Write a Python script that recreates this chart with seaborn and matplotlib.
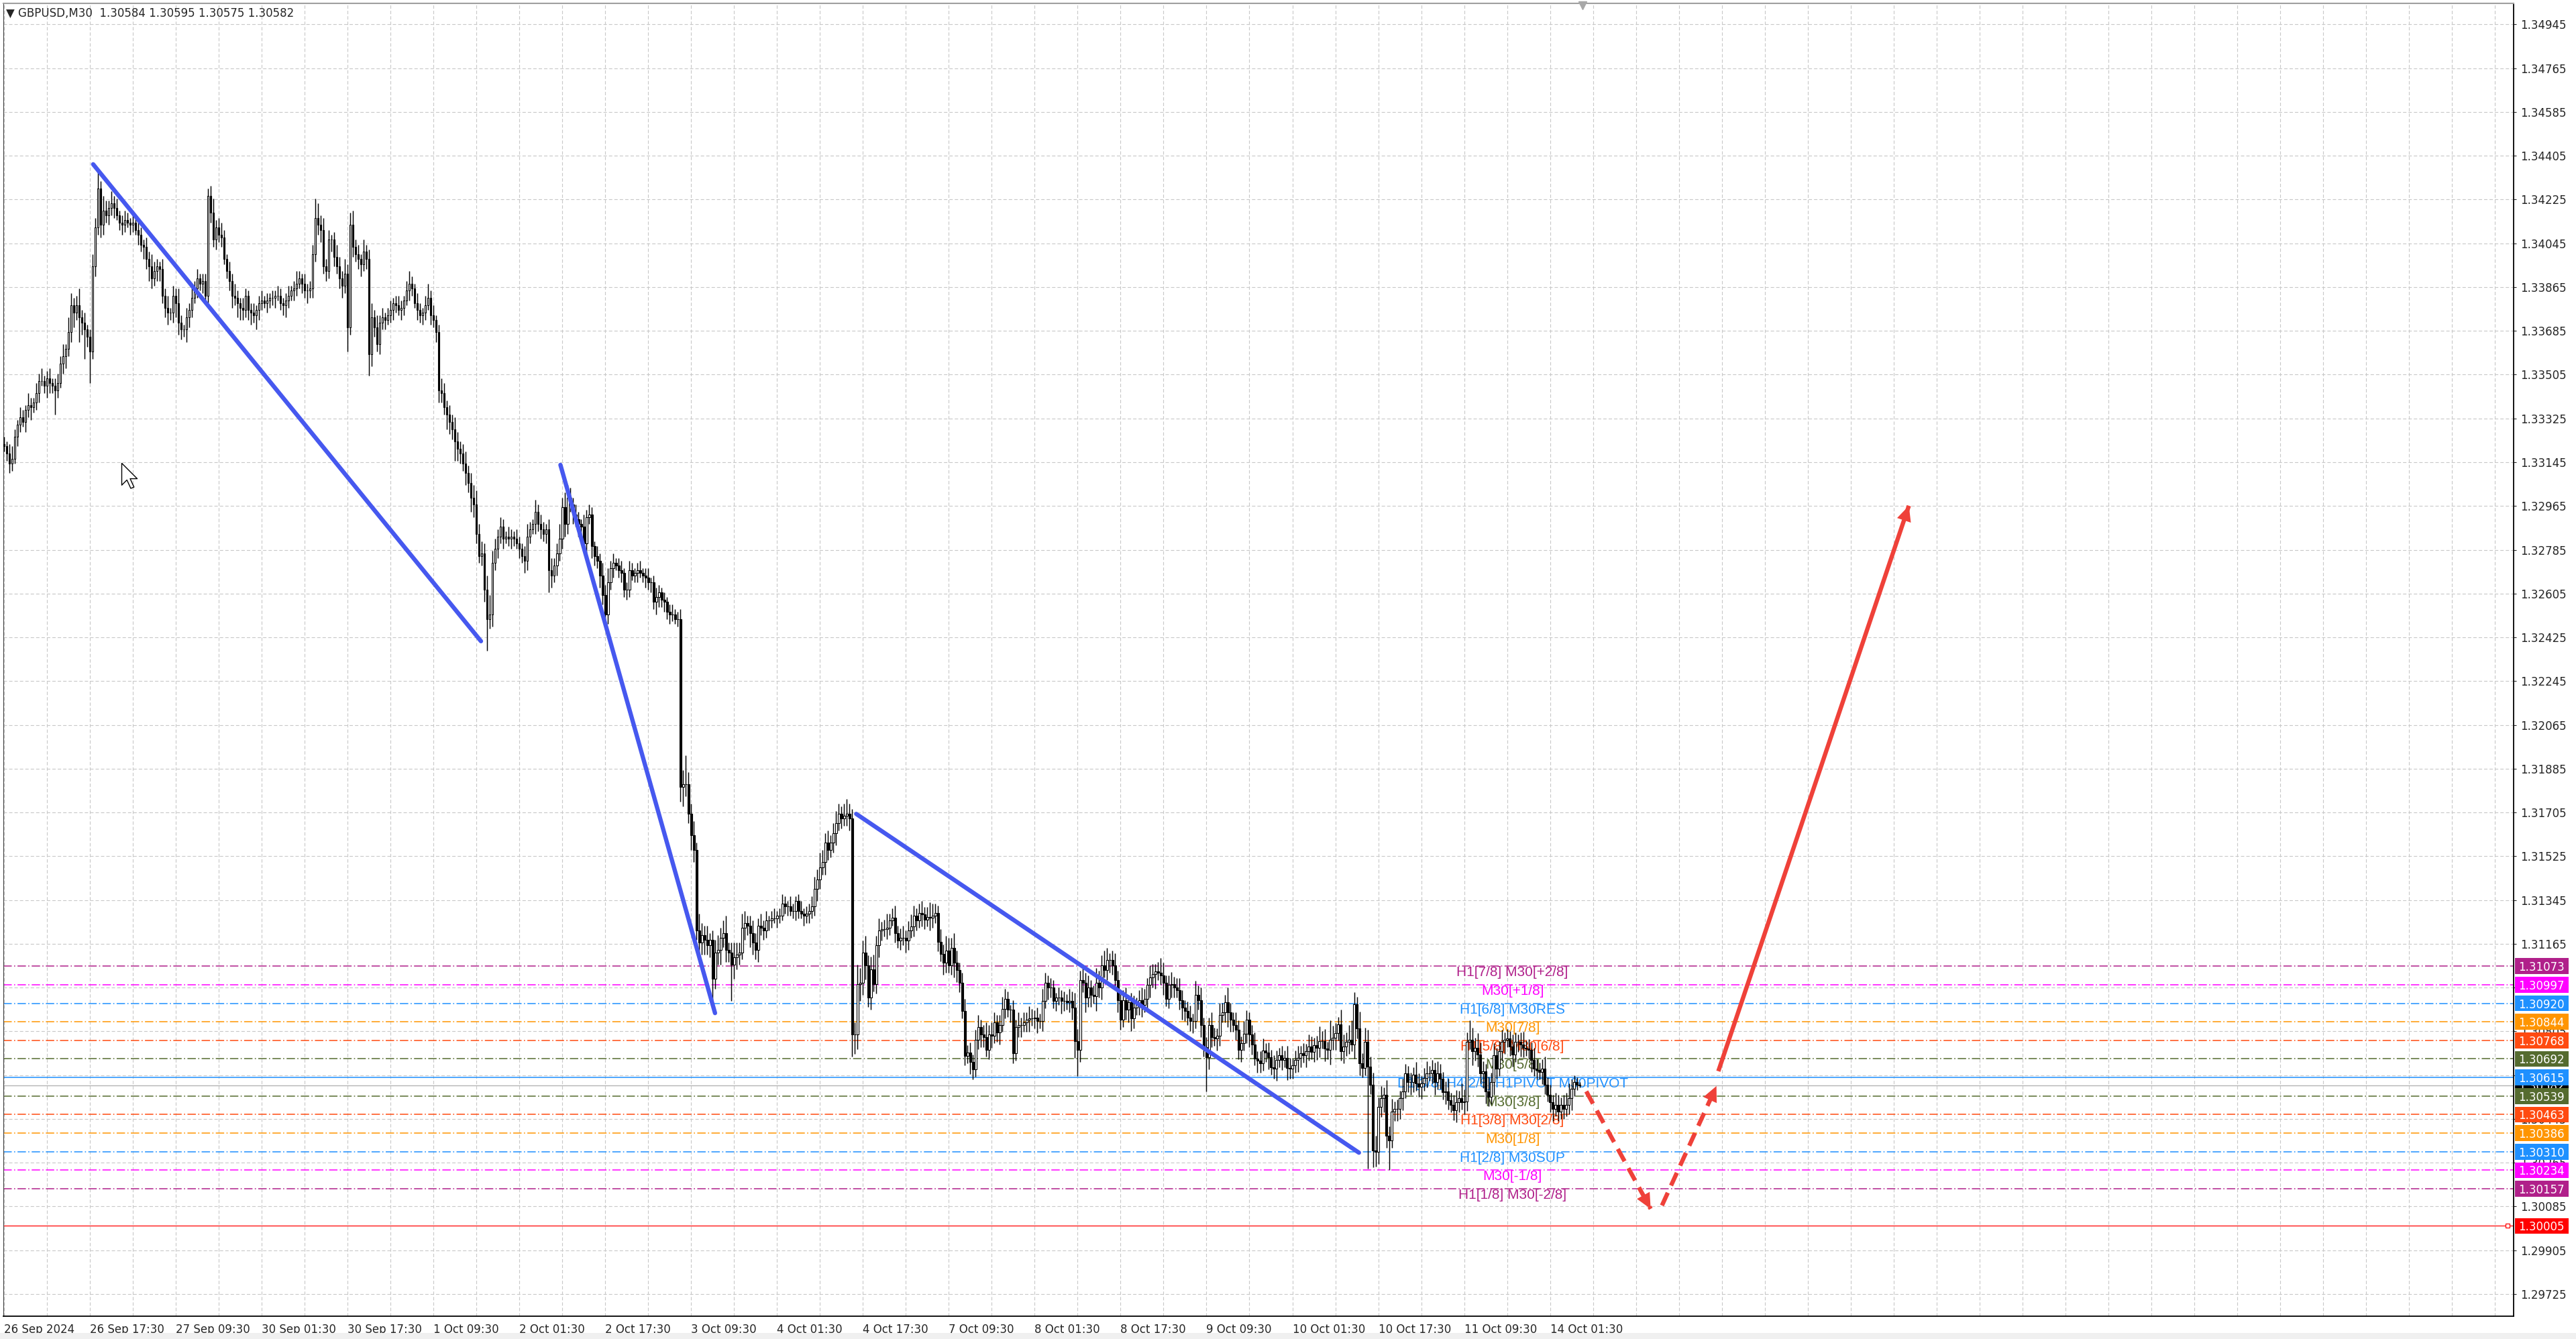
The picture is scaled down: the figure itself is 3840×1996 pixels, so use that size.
import numpy as np
import pandas as pd
import seaborn as sns
import matplotlib.pyplot as plt
from matplotlib.patches import Rectangle
from matplotlib.transforms import blended_transform_factory

# ---------------- data ----------------
# M30 candles, prices in pips above 1.30000 (open = previous close)
first_open = 322
close_pips = [
    321, 318, 314, 316, 325, 330, 333, 331, 336, 338,
    337, 339, 343, 348, 348, 346, 349, 347, 346, 344,
    347, 355, 358, 361, 368, 379, 376, 379, 374, 372,
    369, 366, 360, 395, 411, 427, 412, 418, 416, 419,
    421, 419, 416, 413, 412, 414, 413, 412, 413, 410,
    408, 404, 403, 398, 395, 390, 393, 395, 394, 383,
    378, 376, 376, 383, 380, 372, 369, 369, 374, 377,
    382, 386, 390, 388, 389, 383, 424, 417, 406, 411,
    408, 407, 398, 393, 389, 383, 382, 380, 378, 377,
    383, 377, 376, 375, 377, 380, 381, 380, 381, 382,
    382, 383, 383, 380, 379, 381, 383, 385, 386, 388,
    390, 388, 385, 385, 386, 400, 415, 412, 410, 395,
    393, 406, 406, 399, 395, 390, 387, 392, 370, 412,
    403, 400, 398, 396, 401, 398, 359, 374, 370, 363,
    372, 374, 373, 375, 377, 380, 379, 377, 378, 381,
    385, 388, 386, 380, 377, 375, 376, 379, 382, 375,
    373, 368, 344, 343, 337, 334, 331, 328, 323, 320,
    318, 314, 310, 306, 300, 297, 285, 276, 277, 262,
    250, 252, 273, 279, 284, 288, 283, 284, 283, 284,
    283, 281, 279, 276, 274, 284, 287, 289, 294, 289,
    287, 285, 287, 270, 268, 272, 277, 283, 296, 289,
    300, 297, 293, 291, 289, 288, 281, 292, 293, 280,
    276, 274, 268, 260, 252, 265, 271, 273, 272, 270,
    269, 262, 262, 270, 268, 269, 270, 269, 268, 267,
    265, 265, 257, 259, 261, 258, 257, 253, 252, 252,
    250, 250, 181, 182, 182, 170, 161, 155, 122, 117,
    120, 118, 116, 118, 102, 113, 114, 119, 121, 114,
    113, 108, 111, 112, 113, 123, 125, 124, 121, 117,
    114, 124, 123, 122, 126, 126, 127, 127, 128, 128,
    133, 132, 132, 130, 130, 134, 130, 129, 128, 129,
    130, 132, 139, 143, 148, 150, 158, 155, 158, 162,
    166, 170, 168, 169, 170, 168, 79.1, 79.1, 100.0, 100.5,
    112.8, 107.7, 94.4, 106.1, 100.0, 115.8, 121.9, 122.5, 122.5, 123.0,
    126.0, 127.1, 120.9, 117.9, 118.9, 118.9, 117.9, 121.9, 123.5, 128.1,
    126.0, 129.1, 128.6, 126.5, 127.6, 127.1, 128.1, 129.1, 117.4, 112.3,
    108.7, 113.8, 107.7, 114.8, 108.7, 105.6, 100.5, 88.8, 70.4, 71.9,
    67.9, 64.8, 77.1, 82.2, 79.1, 78.1, 73.0, 79.1, 78.6, 84.2,
    80.1, 83.2, 89.8, 93.9, 89.3, 89.3, 71.4, 82.2, 83.2, 83.2,
    84.2, 85.2, 85.7, 85.7, 86.2, 84.7, 84.7, 92.9, 100.5, 98.5,
    98.5, 92.9, 94.4, 94.4, 92.9, 92.9, 92.4, 92.9, 90.3, 76.5,
    73.0, 101.5, 100.5, 94.4, 98.5, 95.4, 94.9, 100.5, 98.5, 107.7,
    105.6, 109.7, 109.7, 107.7, 101.5, 93.4, 85.2, 93.4, 89.3, 92.4,
    85.7, 90.3, 91.3, 93.4, 91.3, 93.9, 99.5, 102.6, 104.1, 105.1,
    104.6, 103.6, 100.5, 93.9, 99.5, 100.0, 98.5, 97.5, 93.4, 90.3,
    88.8, 86.2, 84.7, 84.7, 95.4, 93.4, 83.2, 74.0, 69.9, 83.2,
    78.1, 77.6, 78.6, 87.3, 88.3, 92.4, 88.3, 85.2, 83.2, 81.1,
    73.0, 75.5, 79.6, 85.2, 79.1, 75.0, 69.4, 68.4, 67.4, 72.5,
    71.9, 69.9, 65.8, 65.1, 68.7, 70.6, 68.7, 69.6, 65.5, 65.1,
    66.4, 68.7, 69.6, 71.5, 70.6, 72.4, 74.3, 72.0, 74.7, 73.8,
    76.5, 76.5, 73.3, 72.9, 77.0, 77.9, 79.8, 83.4, 72.4, 74.3,
    76.1, 77.0, 75.2, 91.7, 81.6, 67.4, 65.5, 76.1, 66.0, 58.6,
    31.5, 31.0, 49.4, 53.1, 54.5, 37.5, 35.6, 47.6, 48.5, 48.5,
    53.1, 55.9, 63.2, 59.5, 59.5, 62.8, 59.1, 57.7, 59.1, 61.4,
    63.2, 63.2, 64.6, 59.5, 63.2, 60.9, 55.4, 55.9, 52.2, 50.3,
    48.0, 51.3, 53.1, 51.3, 51.7, 76.1, 77.0, 72.4, 73.8, 71.0,
    63.2, 64.1, 55.9, 53.6, 59.5, 70.6, 65.1, 72.4, 76.1, 77.0,
    77.5, 74.3, 71.0, 76.1, 76.1, 75.2, 73.8, 73.3, 72.9, 68.7,
    65.1, 64.6, 63.7, 65.1, 58.6, 54.5, 51.3, 48.5, 50.3, 47.6,
    50.3, 48.5, 50.3, 53.1, 56.8, 59.5, 58.4, 58.2,
]
# wick lengths in pips above / below the candle body
upper_wick = [
    3, 2, 4, 5, 3, 2, 4, 3, 2, 5, 3, 2, 4, 3, 5, 2, 3, 4, 2, 3,
    4, 3, 5, 2, 6, 5, 3, 4, 7, 3, 4, 2, 3, 5, 4, 7, 3, 6, 4, 3,
    5, 3, 4, 2, 3, 4, 3, 2, 5, 3, 4, 3, 2, 4, 3, 5, 4, 3, 2, 4,
    3, 5, 2, 4, 3, 6, 3, 2, 4, 3, 5, 3, 4, 2, 3, 3, 3, 4, 6, 3,
    4, 5, 3, 2, 4, 3, 5, 3, 2, 4, 3, 2, 3, 4, 2, 3, 4, 2, 3, 2,
    3, 2, 4, 3, 2, 3, 4, 2, 3, 5, 3, 2, 4, 3, 3, 4, 8, 6, 4, 5,
    3, 4, 2, 3, 5, 4, 3, 6, 4, 5, 6, 3, 4, 2, 5, 3, 4, 6, 3, 5,
    3, 4, 2, 3, 4, 2, 3, 4, 3, 2, 4, 5, 3, 2, 4, 3, 2, 4, 6, 3,
    4, 2, 3, 5, 4, 3, 4, 3, 5, 4, 3, 4, 5, 3, 4, 5, 6, 4, 5, 4,
    6, 8, 5, 4, 3, 4, 3, 2, 4, 3, 2, 4, 3, 2, 4, 5, 3, 2, 5, 3,
    4, 3, 2, 4, 5, 3, 4, 6, 4, 6, 5, 4, 3, 4, 3, 2, 5, 3, 4, 3,
    2, 4, 3, 5, 4, 6, 3, 4, 2, 3, 4, 2, 3, 4, 3, 2, 3, 4, 2, 3,
    4, 2, 3, 4, 3, 2, 3, 2, 3, 4, 2, 3, 4, 6, 12, 5, 4, 6, 3, 7,
    5, 4, 6, 3, 4, 5, 6, 4, 5, 7, 3, 4, 6, 5, 4, 6, 5, 3, 4, 5,
    4, 3, 5, 3, 4, 2, 3, 4, 2, 3, 4, 3, 2, 4, 3, 2, 3, 4, 2, 3,
    3, 4, 5, 4, 6, 5, 4, 5, 3, 4, 5, 4, 3, 5, 6, 4, 4, 5, 8, 6,
    5, 7, 4, 5, 6, 4, 5, 3, 4, 6, 3, 4, 5, 3, 4, 5, 3, 4, 5, 4,
    3, 4, 5, 3, 4, 6, 5, 4, 3, 5, 4, 6, 5, 4, 6, 5, 3, 4, 5, 3,
    4, 3, 4, 5, 3, 4, 6, 4, 5, 4, 3, 4, 5, 4, 3, 2, 4, 3, 5, 3,
    4, 3, 5, 4, 3, 4, 3, 5, 4, 3, 4, 3, 2, 4, 3, 4, 3, 5, 4, 6,
    5, 4, 6, 4, 5, 3, 4, 6, 5, 4, 6, 5, 3, 4, 5, 4, 3, 4, 5, 3,
    4, 5, 3, 4, 5, 4, 3, 5, 4, 3, 4, 6, 5, 3, 4, 5, 3, 4, 5, 4,
    3, 4, 5, 3, 6, 4, 5, 3, 4, 3, 5, 4, 3, 5, 4, 3, 6, 4, 3, 5,
    4, 3, 5, 4, 3, 4, 5, 3, 4, 5, 3, 4, 3, 5, 4, 3, 4, 3, 5, 4,
    3, 4, 5, 3, 4, 3, 5, 4, 3, 4, 6, 4, 5, 3, 8, 5, 4, 3, 6, 5,
    4, 6, 8, 5, 3, 7, 4, 6, 5, 4, 5, 6, 4, 5, 3, 6, 4, 5, 3, 4,
    3, 5, 4, 3, 4, 3, 5, 4, 3, 4, 5, 3, 4, 3, 5, 4, 3, 4, 5, 3,
    4, 5, 3, 6, 5, 4, 8, 5, 4, 6, 5, 4, 3, 6, 4, 5, 3, 4, 5, 3,
    4, 3, 5, 4, 3, 4, 5, 3, 4, 3, 5, 4, 3, 4, 5, 3, 4, 3, 5, 4,
    3, 4, 5, 6, 4, 3, 2, 1.1,
]
lower_wick = [
    2, 3, 4, 3, 2, 4, 3, 2, 4, 3, 5, 2, 3, 4, 2, 3, 5, 4, 3, 10,
    3, 2, 4, 5, 3, 4, 6, 3, 10, 5, 12, 4, 13, 3, 4, 3, 5, 4, 3, 4,
    3, 4, 2, 3, 4, 3, 2, 4, 3, 2, 4, 3, 5, 4, 6, 4, 3, 4, 5, 3,
    4, 5, 3, 4, 6, 5, 4, 3, 5, 4, 3, 2, 4, 3, 4, 3, 3, 4, 3, 4,
    3, 4, 2, 3, 4, 5, 3, 6, 5, 4, 3, 4, 5, 3, 6, 4, 3, 2, 4, 3,
    3, 4, 2, 3, 4, 5, 3, 2, 4, 3, 2, 4, 3, 5, 3, 4, 3, 4, 5, 3,
    4, 3, 5, 4, 3, 4, 5, 3, 10, 3, 4, 3, 4, 5, 3, 4, 9, 5, 4, 3,
    4, 3, 4, 2, 3, 4, 3, 2, 4, 3, 2, 4, 3, 2, 4, 3, 4, 3, 2, 4,
    3, 4, 5, 4, 3, 6, 5, 4, 8, 5, 4, 3, 5, 4, 6, 5, 4, 3, 4, 5,
    13, 4, 5, 3, 4, 3, 4, 2, 3, 4, 3, 2, 4, 3, 5, 4, 3, 2, 4, 3,
    4, 3, 4, 9, 5, 3, 4, 3, 4, 5, 4, 3, 4, 3, 5, 4, 3, 4, 3, 5,
    4, 3, 5, 4, 3, 4, 3, 4, 2, 3, 4, 3, 4, 3, 2, 3, 4, 2, 3, 4,
    3, 4, 3, 5, 4, 3, 4, 3, 4, 3, 2, 3, 6, 8, 5, 4, 6, 5, 4, 6,
    5, 6, 4, 5, 9, 4, 5, 6, 4, 5, 4, 15, 6, 5, 4, 3, 5, 4, 6, 5,
    4, 5, 3, 4, 3, 4, 3, 2, 4, 3, 2, 3, 4, 2, 3, 4, 3, 2, 4, 3,
    4, 3, 4, 5, 4, 3, 5, 4, 3, 4, 5, 3, 4, 3, 4, 5, 9, 8, 6, 7,
    5, 6, 4, 5, 3, 4, 5, 4, 3, 4, 3, 2, 4, 3, 4, 3, 5, 4, 3, 4,
    4, 3, 5, 4, 3, 5, 4, 3, 4, 3, 5, 4, 3, 4, 6, 5, 4, 3, 4, 3,
    5, 4, 3, 4, 5, 4, 3, 4, 5, 3, 4, 5, 3, 4, 3, 5, 4, 3, 4, 5,
    3, 4, 5, 3, 4, 5, 3, 4, 3, 5, 4, 3, 4, 3, 5, 4, 3, 4, 5, 7,
    11, 5, 4, 6, 4, 5, 3, 6, 4, 5, 3, 4, 5, 4, 3, 5, 4, 3, 4, 5,
    5, 4, 3, 4, 5, 3, 4, 5, 4, 6, 3, 4, 5, 3, 4, 5, 4, 3, 4, 5,
    4, 3, 4, 5, 3, 4, 5, 4, 14, 5, 4, 3, 5, 4, 3, 4, 6, 5, 3, 4,
    4, 5, 3, 4, 5, 4, 3, 5, 4, 3, 4, 5, 3, 4, 5, 3, 4, 3, 5, 4,
    4, 3, 5, 4, 3, 5, 4, 3, 4, 5, 4, 3, 5, 4, 6, 4, 5, 3, 4, 5,
    4, 5, 3, 6, 4, 5, 4, 3, 42, 4, 7, 6, 5, 4, 6, 5, 12, 3, 4, 5,
    4, 5, 3, 4, 5, 4, 3, 4, 5, 3, 4, 3, 4, 5, 3, 4, 3, 5, 4, 3,
    4, 5, 4, 3, 5, 4, 3, 6, 4, 5, 4, 6, 5, 4, 3, 5, 4, 3, 4, 5,
    3, 4, 5, 3, 4, 5, 4, 3, 4, 5, 3, 4, 3, 5, 4, 3, 4, 5, 3, 4,
    3, 4, 3, 4, 5, 3, 2, 0.7,
]

time_labels = ['26 Sep 2024', '26 Sep 17:30', '27 Sep 09:30', '30 Sep 01:30',
               '30 Sep 17:30', '1 Oct 09:30', '2 Oct 01:30', '2 Oct 17:30',
               '3 Oct 09:30', '4 Oct 01:30', '4 Oct 17:30', '7 Oct 09:30',
               '8 Oct 01:30', '8 Oct 17:30', '9 Oct 09:30', '10 Oct 01:30',
               '10 Oct 17:30', '11 Oct 09:30', '14 Oct 01:30']

level_prices = [1.31073, 1.30997, 1.30920, 1.30844, 1.30768, 1.30692, 1.30615,
                1.30539, 1.30463, 1.30386, 1.30310, 1.30234, 1.30157]
level_labels = ['H1[7/8] M30[+2/8]', 'M30[+1/8]', 'H1[6/8] M30RES', 'M30[7/8]',
                'H1[5/8] M30[6/8]', 'M30[5/8]', 'D1[3/8] H4[2/8] H1PIVOT M30PIVOT',
                'M30[3/8]', 'H1[3/8] M30[2/8]', 'M30[1/8]', 'H1[2/8] M30SUP',
                'M30[-1/8]', 'H1[1/8] M30[-2/8]']
level_colors = ['#b0208a', '#ff00ff', '#1e90ff', '#ff9500', '#ff4a10', '#556b2f',
                '#1e90ff', '#556b2f', '#ff4a10', '#ff9500', '#1e90ff', '#ff00ff',
                '#b0208a']
alert_price = 1.30005
current_price = 1.30582
header_symbol = 'GBPUSD,M30'
header_ohlc = [1.30584, 1.30595, 1.30575, 1.30582]

# hand drawn lines, (bar, price) endpoints
trend_lines = [((33.2, 1.34370), (177.7, 1.32409)),
               ((207.3, 1.33134), (264.9, 1.30880)),
               ((317.5, 1.31699), (504.8, 1.30306))]
forecast_lines = [((589.5, 1.30558), (613.5, 1.30075)),
                  ((617.7, 1.30089), (638.0, 1.30580)),
                  ((638.7, 1.30641), (709.7, 1.32966))]
cursor_point = (43.8, 1.33143)

assert len(close_pips) == len(upper_wick) == len(lower_wick)

# ---------------- candles ----------------
df = pd.DataFrame({'close': close_pips, 'up': upper_wick, 'dn': lower_wick})
df['open'] = [first_open] + close_pips[:-1]
df['high'] = df[['open', 'close']].max(axis=1) + df['up']
df['low'] = df[['open', 'close']].min(axis=1) - df['dn']
for col in ['open', 'close', 'high', 'low']:
    df[col] = 1.3 + df[col] / 10000
df['bar'] = np.arange(len(df))
df['bull'] = df['close'] >= df['open']

# ---------------- figure ----------------
sns.set_style('white')
plt.rcParams['font.family'] = ['DejaVu Sans']
plt.rcParams['lines.scale_dashes'] = False
plt.rcParams['axes.axisbelow'] = True

W, H = 3840, 1996
fig = plt.figure(figsize=(W / 100, H / 100), dpi=100)
ax = fig.add_axes([5 / W, 34 / H, 3742 / W, 1957 / H])
ax.set_xlim(-0.25, 935.0)
ax.set_ylim(1.296337, 1.350316)

# grid + ticks
price_ticks = np.round(1.29725 + 0.0018 * np.arange(30), 5)
ax.set_yticks(price_ticks)
ax.set_yticklabels([f'{p:.5f}' for p in price_ticks])
ax.yaxis.tick_right()
major_x = np.arange(len(time_labels)) * 32
ax.set_xticks(major_x)
ax.set_xticklabels(time_labels, ha='left')
ax.set_xticks([m for m in range(16, 936, 16) if m not in major_x], minor=True)
grid_kw = dict(color='#c8c8c8', linestyle=(0, (3.6, 2.2)), linewidth=0.8)
ax.grid(True, which='both', axis='x', **grid_kw)
ax.grid(True, which='major', axis='y', **grid_kw)
ax.tick_params(axis='y', which='major', direction='out', length=3, width=0.8,
               labelsize=12, pad=4, right=True, left=False)
ax.tick_params(axis='x', which='major', direction='out', length=4, width=0.8,
               labelsize=12, pad=4)
ax.tick_params(axis='x', which='minor', length=0)
for side in ['right', 'bottom']:
    ax.spines[side].set_color('black')
    ax.spines[side].set_linewidth(1.3)
ax.spines['left'].set_color('#404040')
ax.spines['top'].set_color('#a0a0a0')
ax.spines['top'].set_linewidth(1.5)

# level lines and labels
label_bar = 562
for price, lab, col in zip(level_prices, level_labels, level_colors):
    ls = '-' if 'PIVOT' in lab else (0, (9, 2.5, 1.2, 2.5))
    ax.axhline(price, color=col, linewidth=1.1, linestyle=ls, zorder=2)
    ax.text(label_bar, price, lab, color=col, fontsize=15, ha='center', va='top',
            family=['Liberation Sans', 'DejaVu Sans'], zorder=2.5)
ax.axhline(current_price, color='#b4b4b4', linewidth=1.0, zorder=2)
ax.axhline(alert_price, color='red', linewidth=0.9, zorder=2)

# candles
ax.vlines(df['bar'], df['low'], df['high'], color='black', linewidth=1.05, zorder=3)
for is_bull, face in [(True, 'white'), (False, 'black')]:
    d = df[df['bull'] == is_bull]
    ax.bar(d['bar'], (d['close'] - d['open']).abs(),
           bottom=d[['open', 'close']].min(axis=1), width=0.64,
           color=face, edgecolor='black', linewidth=0.8, zorder=4)

# blue trend lines
for (b0, p0), (b1, p1) in trend_lines:
    sns.lineplot(x=[b0, b1], y=[p0, p1], ax=ax, color='#4658ef', linewidth=4.6,
                 sort=False, estimator=None, solid_capstyle='round', zorder=5)

# red forecast arrows
red = '#ef4139'
for i, ((b0, p0), (b1, p1)) in enumerate(forecast_lines):
    ls = '-' if i == len(forecast_lines) - 1 else (0, (15, 8.5))
    ax.plot([b0, b1], [p0, p1], color=red, linewidth=4.6, linestyle=ls,
            solid_capstyle='butt', zorder=5)
    ax.annotate('', xy=(b1, p1), xytext=(b0, p0),
                arrowprops=dict(arrowstyle='-|>,head_length=0.55,head_width=0.26',
                                color=red, lw=0, mutation_scale=30,
                                shrinkA=0, shrinkB=0), zorder=6)

# right side price boxes
trans = blended_transform_factory(ax.transAxes, ax.transData)
box_w, box_h = 80 / 3742, 0.00065
boxes = [(current_price, 'black')] + list(zip(level_prices, level_colors)) + [(alert_price, '#ff0000')]
for k, (price, col) in enumerate(boxes):
    ax.add_patch(Rectangle((1 + 1.5 / 3742, price - box_h / 2), box_w, box_h,
                           transform=trans, facecolor=col, edgecolor='none',
                           clip_on=False, zorder=7 + 2 * k))
    ax.text(1 + 41.5 / 3742, price, f'{price:.5f}', transform=trans, color='white',
            ha='center', va='center_baseline', fontsize=12, clip_on=False,
            zorder=8 + 2 * k)
ax.plot([0.9975], [alert_price], transform=trans, marker='s', ms=4, mfc='white',
        mec='red', mew=0.9, clip_on=False, zorder=6)

# header, shift marker, mouse cursor
ax.text(4 / 3742, 1 - 6 / 1957,
        '▼ ' + header_symbol + '  ' + ' '.join(f'{v:.5f}' for v in header_ohlc),
        transform=ax.transAxes, ha='left', va='top', fontsize=12, zorder=9)
ax.plot([len(df)], [1 - 3 / 1957], transform=blended_transform_factory(ax.transData, ax.transAxes),
        marker='v', ms=9, color='#a8a8a8', clip_on=False, zorder=9)
cursor = [(0, 0), (0, -17), (4, -13), (7, -19.5), (9.5, -18.5), (6.5, -12), (12, -12), (0, 0)]
ax.plot([cursor_point[0]], [cursor_point[1]], marker=cursor, ms=54, mfc='white',
        mec='black', mew=1.0, zorder=9)

fig.patches.append(Rectangle((0, 0), 1, 9 / H, transform=fig.transFigure,
                             facecolor='#f0f0f0', edgecolor='none', zorder=0))
ax.set_xlabel('')
ax.set_ylabel('')
fig.savefig('out.png', dpi=100, facecolor='white')
